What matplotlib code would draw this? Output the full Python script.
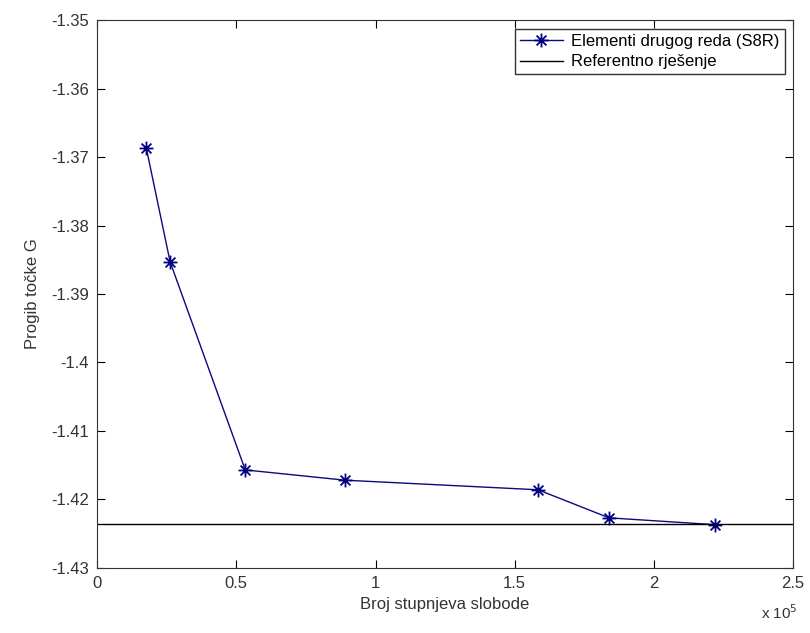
import matplotlib
matplotlib.use("Agg")
import matplotlib.pyplot as plt
from matplotlib.path import Path
from matplotlib.ticker import FuncFormatter, MultipleLocator

plt.rcParams['font.family'] = ['Liberation Sans', 'DejaVu Sans']

# broj stupnjeva slobode i progib
dofs = [17600, 26200, 53200, 89000, 158400, 183900, 222000]
progib = [-1.3686, -1.3853, -1.4157, -1.4172, -1.4186, -1.4227, -1.4237]
referentno = -1.4236

# matlab-like asterisk marker (+ and x overlaid)
d = 0.7071
verts = [(-1, 0), (1, 0), (0, -1), (0, 1), (-d, -d), (d, d), (-d, d), (d, -d)]
codes = [Path.MOVETO, Path.LINETO] * 4
asterisk = Path(verts, codes)

fig = plt.figure(figsize=(8.1, 6.33), dpi=100)
ax = fig.add_axes([0.12, 0.103, 0.859, 0.865])

ax.plot(dofs, progib, color='#0a0a80', lw=1.0, marker=asterisk, ms=10, mew=1.3,
        mec='#00007f', mfc='none', label='Elementi drugog reda (S8R)')
ax.axhline(referentno, color='black', lw=1.0, label='Referentno rješenje')

ax.set_xlim(0, 2.5e5)
ax.set_ylim(-1.43, -1.35)
ax.xaxis.set_major_locator(MultipleLocator(0.5e5))
ax.yaxis.set_major_locator(MultipleLocator(0.01))
ax.xaxis.set_major_formatter(FuncFormatter(lambda v, p: '%g' % round(v / 1e5, 2)))
ax.yaxis.set_major_formatter(FuncFormatter(lambda v, p: '%g' % round(v, 3)))
ax.tick_params(direction='in', top=True, right=True, length=6, labelsize=12,
               labelcolor='#333333', pad=6)
for s in ax.spines.values():
    s.set_color('#333333')

ax.set_xlabel('Broj stupnjeva slobode', fontsize=12, color='#333333')
ax.set_ylabel('Progib točke G', fontsize=12, color='#333333', labelpad=8)
fig.text(0.985, 0.018, r'x 10$^5$', ha='right', va='bottom', fontsize=11, color='#333333')

leg = ax.legend(loc='upper right', fontsize=12, frameon=True, fancybox=False,
                edgecolor='black', handlelength=2.6, handletextpad=0.5,
                borderaxespad=0.5, borderpad=0.3, labelspacing=0.35)
leg.get_frame().set_linewidth(1.0)

fig.savefig('out.png', dpi=100)
